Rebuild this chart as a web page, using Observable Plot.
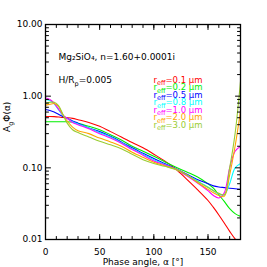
<!DOCTYPE html>
<html><head><meta charset="utf-8">
<script src="https://cdn.jsdelivr.net/npm/d3@7"></script>
<script src="https://cdn.jsdelivr.net/npm/@observablehq/plot@0.6"></script>
<style>body{margin:0;background:#fff}</style>
</head><body><div id="chart"></div>
<script>
const alpha = [0,4,8,12,16,20,25,30,40,50,60,70,80,90,100,110,120,130,140,150,155,160,165,170,175,180];
const rEff = ["0.1","0.2","0.5","0.8","1.0","2.0","3.0"];
const colors = ["#ff0000","#00ee00","#0000ff","#00ffff","#ff00ff","#ffa500","#9acd32"];
const phi_r01 = [0.52,0.52,0.518,0.513,0.505,0.50,0.49,0.47,0.43,0.38,0.32,0.27,0.225,0.19,0.155,0.125,0.097,0.07,0.05,0.035,0.028,0.022,0.017,0.013,0.0102,0.0085];
const phi_r02 = [0.44,0.44,0.44,0.44,0.44,0.44,0.435,0.42,0.38,0.34,0.29,0.245,0.20,0.17,0.145,0.122,0.103,0.088,0.075,0.06,0.052,0.042,0.034,0.027,0.023,0.021];
const phi_r05 = [0.65,0.63,0.60,0.56,0.52,0.49,0.45,0.42,0.36,0.32,0.275,0.23,0.19,0.16,0.135,0.115,0.098,0.082,0.069,0.06,0.056,0.054,0.053,0.052,0.051,0.05];
const phi_r08 = [0.90,0.87,0.78,0.65,0.54,0.49,0.44,0.41,0.36,0.31,0.27,0.225,0.185,0.155,0.13,0.112,0.097,0.08,0.066,0.054,0.048,0.043,0.042,0.06,0.10,0.115];
const phi_r10 = [0.95,0.90,0.80,0.66,0.55,0.49,0.43,0.40,0.35,0.30,0.26,0.22,0.18,0.15,0.125,0.11,0.096,0.078,0.062,0.048,0.041,0.038,0.045,0.10,0.17,0.20];
const phi_r20 = [0.75,0.77,0.79,0.72,0.55,0.45,0.37,0.33,0.30,0.26,0.23,0.20,0.165,0.14,0.12,0.107,0.096,0.08,0.063,0.05,0.045,0.041,0.040,0.08,0.20,0.62];
const phi_r30 = [0.80,0.82,0.82,0.74,0.56,0.42,0.34,0.31,0.27,0.235,0.21,0.185,0.155,0.13,0.115,0.105,0.095,0.08,0.065,0.053,0.048,0.044,0.042,0.10,0.30,1.6];
const series = [phi_r01,phi_r02,phi_r05,phi_r08,phi_r10,phi_r20,phi_r30];
const xMajor = [0,50,100,150];
const xMinor = d3.range(0,181,10);
const yMajor = [0.01,0.1,1,10];
const yMinor = [2,3,4,5,6,7,8,9].flatMap(m => [0.01,0.1,1].map(d => m*d));
const xLabel = "Phase angle, α [°]";
const yLabel = "AgΦ(α)";
const note1 = "Mg₂SiO₄, n=1.60+0.0001i";
const note2 = "H/Rp=0.005";

const rows = series.flatMap((s,i) => s.map((v,j) => ({alpha: alpha[j], phi: v, r: rEff[i]})));

const tick = {draw(ctx, l){ ctx.moveTo(0,0); ctx.lineTo(0,-l); }};
function vt(data, opts){ return Plot.vector(data, {anchor:"start", shape: tick, strokeWidth:1, stroke:"black", ...opts}); }

const legendMarks = rEff.map((r,i) => Plot.text([`reff=${r} μm`], {frameAnchor:"top-left", dx:108, dy:55.5+7.5*i, textAnchor:"start", lineAnchor:"middle", fill: colors[i], fontSize:8.5}));

const chart = Plot.plot({
  width: 267, height: 267,
  marginLeft: 45, marginRight: 27, marginTop: 24, marginBottom: 28,
  style: {fontFamily: "'DejaVu Sans', sans-serif", fontSize: "9px", background: "white", color: "black"},
  x: {domain: [0,180]},
  y: {type: "log", domain: [0.01,10]},
  color: {domain: rEff, range: colors},
  marks: [
    Plot.line(rows, {x:"alpha", y:"phi", z:"r", stroke:"r", strokeWidth:1.1, curve:"catmull-rom", clip:true}),
    Plot.frame({stroke:"black", strokeWidth:1.3}),
    Plot.axisX({ticks: xMajor, tickSize: 0, tickPadding: 9, tickFormat: d => String(d), label: null}),
    Plot.axisY({ticks: yMajor, tickSize: 0, tickPadding: 3, tickFormat: d => d.toFixed(2), label: null}),
    vt(xMajor, {x: d=>d, frameAnchor:"bottom", rotate:0, length:5}),
    vt(xMinor, {x: d=>d, frameAnchor:"bottom", rotate:0, length:3}),
    vt(xMajor, {x: d=>d, frameAnchor:"top", rotate:180, length:5}),
    vt(xMinor, {x: d=>d, frameAnchor:"top", rotate:180, length:3}),
    vt(yMajor, {y: d=>d, frameAnchor:"left", rotate:90, length:5}),
    vt(yMinor, {y: d=>d, frameAnchor:"left", rotate:90, length:3}),
    vt(yMajor, {y: d=>d, frameAnchor:"right", rotate:270, length:5}),
    vt(yMinor, {y: d=>d, frameAnchor:"right", rotate:270, length:3}),
    Plot.text([xLabel], {frameAnchor:"bottom", dy:22.5, lineAnchor:"middle", fontSize:9}),
    Plot.text([yLabel], {frameAnchor:"left", dx:-38, rotate:-90, lineAnchor:"middle", fontSize:9}),
    Plot.text([note1], {frameAnchor:"top-left", dx:13, dy:33, textAnchor:"start", lineAnchor:"middle", fontSize:9}),
    Plot.text([note2], {frameAnchor:"top-left", dx:13, dy:56, textAnchor:"start", lineAnchor:"middle", fontSize:9}),
    ...legendMarks
  ]
});
document.getElementById("chart").appendChild(chart);

function subFix(plain, parts){
  d3.select(chart).selectAll("text").filter(function(){ return this.textContent === plain; }).each(function(){
    const t = d3.select(this); t.text(null);
    let shifted = false;
    parts.forEach(([s, isSub]) => {
      const ts = t.append("tspan").text(s);
      if (isSub && !shifted) { ts.attr("dy", "2.5").attr("font-size", "6.5px"); shifted = true; }
      else if (!isSub && shifted) { ts.attr("dy", "-2.5"); shifted = false; }
    });
  });
}
subFix(yLabel, [["A",false],["g",true],["Φ(α)",false]]);
subFix(note2, [["H/R",false],["p",true],["=0.005",false]]);
rEff.forEach(r => subFix(`reff=${r} μm`, [["r",false],["eff",true],[`=${r} μm`,false]]));
</script></body></html>
